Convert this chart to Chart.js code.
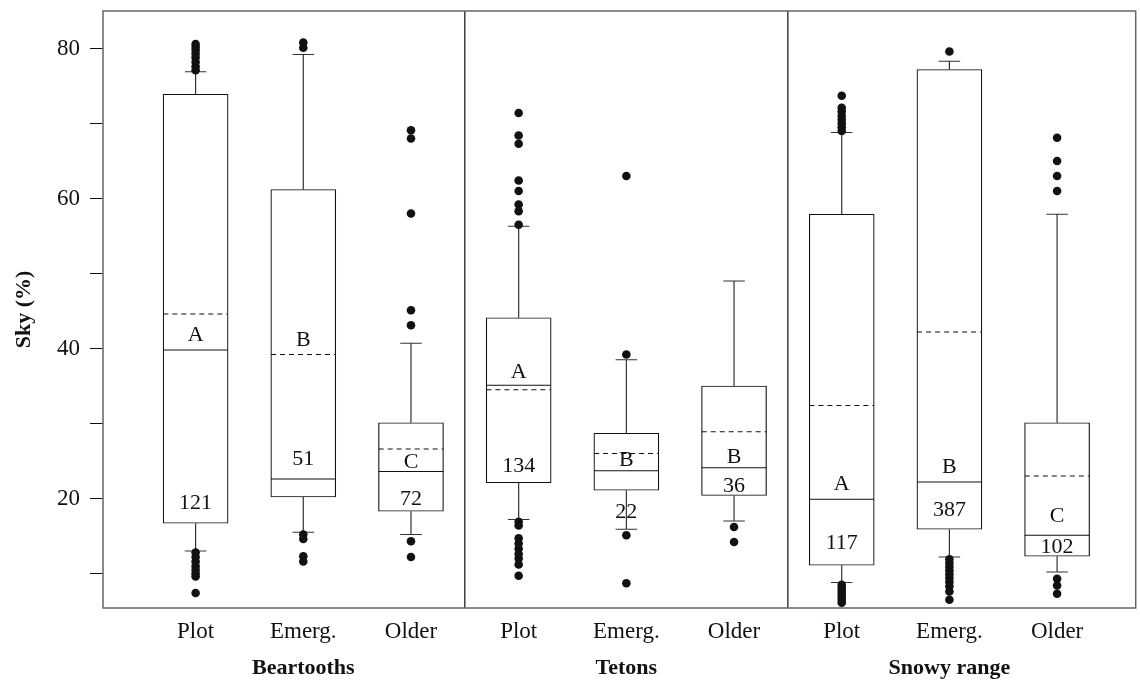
<!DOCTYPE html>
<html>
<head>
<meta charset="utf-8">
<script src="https://cdn.jsdelivr.net/npm/chart.js@4.4.0/dist/chart.umd.min.js"></script>
<style>
html, body { margin: 0; padding: 0; background: #fff; }
#wrap { width: 1140px; height: 680px; }
</style>
</head>
<body>
<div id="wrap"><canvas id="skyChart" width="1140" height="680"></canvas></div>
<script>
// site groups and the three stand types within each
const groups = ['Beartooths', 'Tetons', 'Snowy range'];
const groupCenters = [2, 5, 8];
const categories = ['Plot', 'Emerg.', 'Older', 'Plot', 'Emerg.', 'Older', 'Plot', 'Emerg.', 'Older'];
const positions = [1, 2, 3, 4, 5, 6, 7, 8, 9];

// box statistics (Sky %)
const whiskerLow = [13.0, 15.5, 15.2, 17.2, 15.9, 17.0, 8.8, 12.2, 10.2];
const q1 = [16.7, 20.2, 18.3, 22.1, 21.1, 20.4, 11.1, 15.9, 12.3];
const median = [39.8, 22.6, 23.6, 35.1, 23.7, 24.1, 19.9, 22.2, 15.1];
const mean = [44.6, 39.2, 26.6, 34.5, 26.0, 28.9, 32.4, 42.2, 23.0];
const q3 = [73.9, 61.2, 30.1, 44.1, 28.7, 35.0, 57.9, 77.2, 30.1];
const whiskerHigh = [76.9, 79.2, 40.7, 56.3, 38.5, 49.0, 68.8, 78.3, 57.9];

const outliers = [
    [80.6, 80.2, 79.8, 79.3, 78.8, 78.2, 77.6, 77.1, 12.8, 12.2, 11.6, 11.0, 10.5, 10.0, 9.6, 7.4],
    [80.8, 80.1, 15.2, 14.6, 12.3, 11.6],
    [69.1, 68.0, 58.0, 45.1, 43.1, 14.3, 12.2],
    [71.4, 68.4, 67.3, 62.4, 61.0, 59.2, 58.3, 56.5, 16.9, 16.4, 14.7, 14.0, 13.3, 12.6, 12.0, 11.2, 9.7],
    [63.0, 39.2, 15.1, 8.7],
    [16.2, 14.2],
    [73.7, 72.1, 71.6, 71.0, 70.5, 70.0, 69.5, 69.0, 8.5, 8.1, 7.7, 7.3, 6.9, 6.5, 6.1],
    [79.6, 11.9, 11.4, 10.9, 10.4, 9.9, 9.4, 8.9, 8.3, 7.6, 6.5],
    [68.1, 65.0, 63.0, 61.0, 9.3, 8.4, 7.3]
];

// significance letters and sample sizes, with the value they sit at
const letters = ['A', 'B', 'C', 'A', 'B', 'B', 'A', 'B', 'C'];
const letterY = [41.8, 41.1, 24.8, 36.9, 25.1, 25.5, 21.9, 24.2, 17.6];
const counts = ['121', '51', '72', '134', '22', '36', '117', '387', '102'];
const countY = [19.4, 25.2, 19.9, 24.3, 18.2, 21.7, 14.0, 18.4, 13.5];

const yTicks = [10, 20, 30, 40, 50, 60, 70, 80];

const SERIF = "'Liberation Serif', 'DejaVu Serif', serif";
const INK = '#111';

var boxData = positions.map((p, i) => ({x: p, y: [q1[i], q3[i]]}));
var pointData = [];
outliers.forEach((vals, i) => {
    vals.forEach(v => pointData.push({x: positions[i], y: v}));
});

const boxPlugin = {
    id: 'boxPlugin',
    beforeDatasetsDraw(chart) {
        var ctx = chart.ctx;
        var x = chart.scales.x, y = chart.scales.y;
        ctx.save();
        ctx.strokeStyle = '#333';
        ctx.lineWidth = 1.2;
        for (var i = 0; i < positions.length; i++) {
            var cx = x.getPixelForValue(positions[i]);
            var capL = x.getPixelForValue(positions[i] - 0.1);
            var capR = x.getPixelForValue(positions[i] + 0.1);
            ctx.beginPath();
            ctx.moveTo(cx, y.getPixelForValue(q3[i]));
            ctx.lineTo(cx, y.getPixelForValue(whiskerHigh[i]));
            ctx.moveTo(capL, y.getPixelForValue(whiskerHigh[i]));
            ctx.lineTo(capR, y.getPixelForValue(whiskerHigh[i]));
            ctx.moveTo(cx, y.getPixelForValue(q1[i]));
            ctx.lineTo(cx, y.getPixelForValue(whiskerLow[i]));
            ctx.moveTo(capL, y.getPixelForValue(whiskerLow[i]));
            ctx.lineTo(capR, y.getPixelForValue(whiskerLow[i]));
            ctx.stroke();
        }
        ctx.restore();
    },
    afterDatasetsDraw(chart) {
        var ctx = chart.ctx;
        var x = chart.scales.x, y = chart.scales.y;
        var a = chart.chartArea;
        ctx.save();
        ctx.strokeStyle = INK;
        ctx.lineWidth = 1.2;
        for (var i = 0; i < positions.length; i++) {
            var left = x.getPixelForValue(positions[i] - 0.3);
            var right = x.getPixelForValue(positions[i] + 0.3);
            var cx = x.getPixelForValue(positions[i]);
            // median
            ctx.setLineDash([]);
            ctx.beginPath();
            ctx.moveTo(left, y.getPixelForValue(median[i]));
            ctx.lineTo(right, y.getPixelForValue(median[i]));
            ctx.stroke();
            // mean
            ctx.setLineDash([5, 4]);
            ctx.beginPath();
            ctx.moveTo(left, y.getPixelForValue(mean[i]));
            ctx.lineTo(right, y.getPixelForValue(mean[i]));
            ctx.stroke();

            ctx.fillStyle = INK;
            ctx.font = '22px ' + SERIF;
            ctx.textAlign = 'center';
            ctx.textBaseline = 'middle';
            ctx.fillText(letters[i], cx, y.getPixelForValue(letterY[i]));
            ctx.fillText(counts[i], cx, y.getPixelForValue(countY[i]));
        }
        ctx.setLineDash([]);

        // dividers between sites
        ctx.strokeStyle = INK;
        ctx.lineWidth = 1.2;
        [3.5, 6.5].forEach(d => {
            var px = x.getPixelForValue(d);
            ctx.beginPath();
            ctx.moveTo(px, a.top);
            ctx.lineTo(px, a.bottom);
            ctx.stroke();
        });

        // frame
        ctx.strokeStyle = '#666';
        ctx.lineWidth = 1.5;
        ctx.strokeRect(a.left, a.top, a.right - a.left, a.bottom - a.top);
        ctx.restore();
    },
    afterDraw(chart) {
        var ctx = chart.ctx;
        var x = chart.scales.x;
        var a = chart.chartArea;
        ctx.save();
        ctx.fillStyle = INK;
        ctx.font = 'bold 22px ' + SERIF;
        ctx.textAlign = 'center';
        ctx.textBaseline = 'middle';
        groups.forEach((g, i) => {
            ctx.fillText(g, x.getPixelForValue(groupCenters[i]), 668);
        });
        // y axis title
        ctx.translate(24, (a.top + a.bottom) / 2);
        ctx.rotate(-Math.PI / 2);
        ctx.font = 'bold 22px ' + SERIF;
        ctx.fillText('Sky (%)', 0, 0);
        ctx.restore();
    }
};

var ctx = document.getElementById('skyChart').getContext('2d');
var skyChart = new Chart(ctx, {
    type: 'scatter',
    data: {
        datasets: [{
            type: 'bar',
            label: 'Box',
            data: boxData,
            backgroundColor: '#fff',
            borderColor: INK,
            borderWidth: 1.2,
            borderSkipped: false,
            barThickness: 65
        }, {
            type: 'scatter',
            label: 'Outliers',
            data: pointData,
            backgroundColor: INK,
            borderColor: INK,
            borderWidth: 0,
            pointRadius: 4.3
        }]
    },
    options: {
        responsive: false,
        animation: false,
        devicePixelRatio: 1,
        layout: { padding: { top: 11, right: 2, left: 0, bottom: 0 } },
        plugins: {
            legend: { display: false },
            tooltip: { enabled: false }
        },
        scales: {
            x: {
                type: 'linear',
                offset: false,
                min: 0.14,
                max: 9.73,
                afterBuildTicks: s => { s.ticks = positions.map(v => ({value: v})); },
                afterFit: s => { s.height = 72; s.paddingLeft = 0; s.paddingRight = 0; },
                grid: { display: false, drawTicks: false, offset: false },
                border: { display: false },
                ticks: {
                    padding: 10,
                    color: INK,
                    autoSkip: false,
                    maxRotation: 0,
                    minRotation: 0,
                    font: { family: SERIF, size: 23 },
                    callback: (v, i) => categories[i]
                }
            },
            y: {
                type: 'linear',
                min: 5.4,
                max: 85,
                afterBuildTicks: s => { s.ticks = yTicks.map(v => ({value: v})); },
                afterFit: s => { s.width = 103; s.paddingTop = 0; s.paddingBottom = 0; },
                grid: { drawOnChartArea: false, drawTicks: true, tickLength: 13, color: INK },
                border: { display: false },
                ticks: {
                    padding: 10,
                    color: INK,
                    font: { family: SERIF, size: 23 },
                    callback: v => (v % 20 === 0 ? v : '')
                }
            }
        }
    },
    plugins: [boxPlugin]
});
</script>
</body>
</html>
